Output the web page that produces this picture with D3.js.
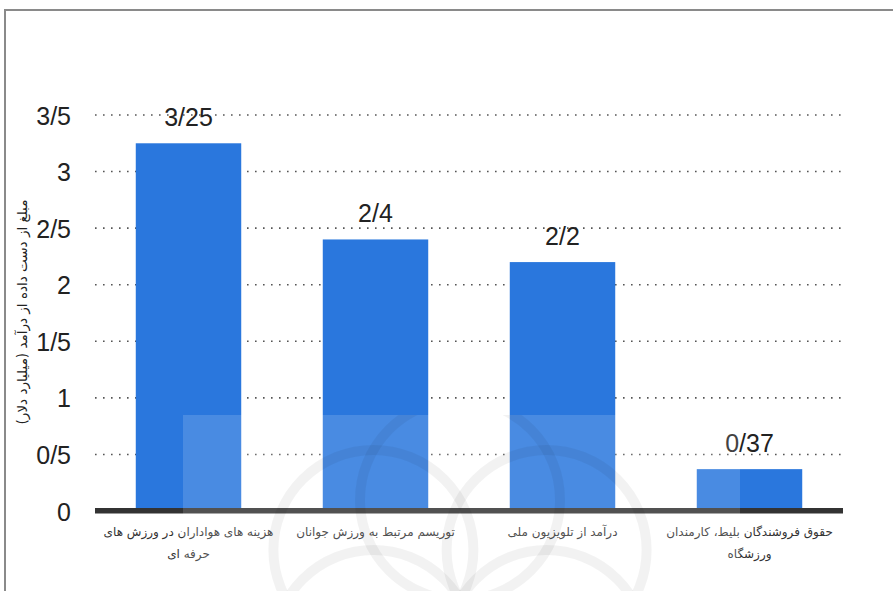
<!DOCTYPE html>
<html><head><meta charset="utf-8">
<script src="https://cdn.jsdelivr.net/npm/d3@7/dist/d3.min.js"></script>
<style>
html,body{margin:0;padding:0;background:#fff;}
svg{display:block;}
</style></head>
<body>
<svg id="chart" width="893" height="591"></svg>
<script>
const categories = [
  ["هزینه های هواداران در ورزش های", "حرفه ای"],
  ["توریسم مرتبط به ورزش جوانان"],
  ["درآمد از تلویزیون ملی"],
  ["حقوق فروشندگان بلیط، کارمندان", "ورزشگاه"]
];
const values = [3.25, 2.4, 2.2, 0.37];
const yTicks = [0, 0.5, 1, 1.5, 2, 2.5, 3, 3.5];
const yTitle = "مبلغ از دست داده از درآمد (میلیارد دلار)";

(function () {
const fmt = v => String(v).replace(".", "/");
const svg = d3.select("#chart");
const W = 893, H = 591;
const mLeft = 95, mRight = 843, mTop = 115, mBottom = 511;

// frame
svg.append("path").attr("d", `M5,${H} L5,10 L${W},10`).attr("fill","none")
  .attr("stroke","#8a8a8a").attr("stroke-width",2);

const x = d3.scaleBand().domain(d3.range(categories.length)).range([mLeft, mRight])
  .paddingInner(0.436).paddingOuter(0.218);
const y = d3.scaleLinear().domain([0, 3.5]).range([mBottom, mTop]);

// gridlines
svg.append("g").selectAll("line").data(yTicks.filter(t => t > 0)).join("line")
  .attr("x1", mLeft).attr("x2", mRight)
  .attr("y1", d => y(d)).attr("y2", d => y(d))
  .attr("stroke", "#555").attr("stroke-width", 1.6)
  .attr("stroke-dasharray", "1.6,6.4");

// y tick labels via axis
const yAxis = d3.axisLeft(y).tickValues(yTicks).tickFormat(fmt).tickSize(0).tickPadding(0);
const ga = svg.append("g").attr("transform", `translate(71,0)`).call(yAxis);
ga.select(".domain").remove();
ga.selectAll("text").attr("font-family", "'Liberation Sans', Arial, sans-serif")
  .attr("font-size", 25).attr("fill", "#222").attr("dy", "0.36em");

// bars
svg.append("g").selectAll("rect").data(values).join("rect")
  .attr("x", (d, i) => x(i)).attr("width", x.bandwidth())
  .attr("y", d => y(d)).attr("height", d => y(0) - y(d))
  .attr("fill", "#2a77dd");

// value labels
svg.append("g").selectAll("text").data(values).join("text")
  .attr("x", (d, i) => x(i) + x.bandwidth() / 2)
  .attr("y", d => y(d) - 17)
  .attr("text-anchor", "middle")
  .attr("font-family", "'Liberation Sans', Arial, sans-serif")
  .attr("font-size", 25).attr("fill", "#222")
  .text(fmt);

// baseline
svg.append("rect").attr("x", mLeft).attr("width", mRight - mLeft)
  .attr("y", y(0) - 3).attr("height", 5.5).attr("fill", "#333");

// x labels
const xl = svg.append("g");
categories.forEach((lines, i) => {
  lines.forEach((ln, j) => {
    xl.append("text")
      .attr("x", x(i) + x.bandwidth() / 2)
      .attr("y", 536 + j * 22)
      .attr("text-anchor", "middle")
      .attr("direction", "rtl")
      .attr("font-family", "'DejaVu Sans', sans-serif")
      .attr("font-size", 12).attr("fill", "#333")
      .text(ln);
  });
});

// y title
svg.append("text")
  .attr("transform", `translate(27,312) rotate(-90)`)
  .attr("text-anchor", "middle")
  .attr("direction", "rtl")
  .attr("font-family", "'DejaVu Sans', sans-serif")
  .attr("font-size", 13.5).attr("fill", "#222")
  .text(yTitle);

// watermark overlay
const defs = svg.append("defs");
defs.append("clipPath").attr("id", "wm").append("rect")
  .attr("x", 183).attr("y", 415).attr("width", 557).attr("height", H - 415);
const wm = svg.append("g").attr("clip-path", "url(#wm)");
wm.append("rect").attr("x", 183).attr("y", 415).attr("width", 557).attr("height", H - 415)
  .attr("fill", "#fff").attr("opacity", 0.15);
const cx = 460, cy = 600, R = 100;
d3.range(6).forEach(k => {
  const a = k * Math.PI / 3 + Math.PI / 6;
  wm.append("circle").attr("cx", cx + R * Math.cos(a)).attr("cy", cy + R * Math.sin(a))
    .attr("r", R).attr("fill", "none").attr("stroke", "#000")
    .attr("stroke-opacity", 0.05).attr("stroke-width", 10);
});
})();
</script>
</body></html>
